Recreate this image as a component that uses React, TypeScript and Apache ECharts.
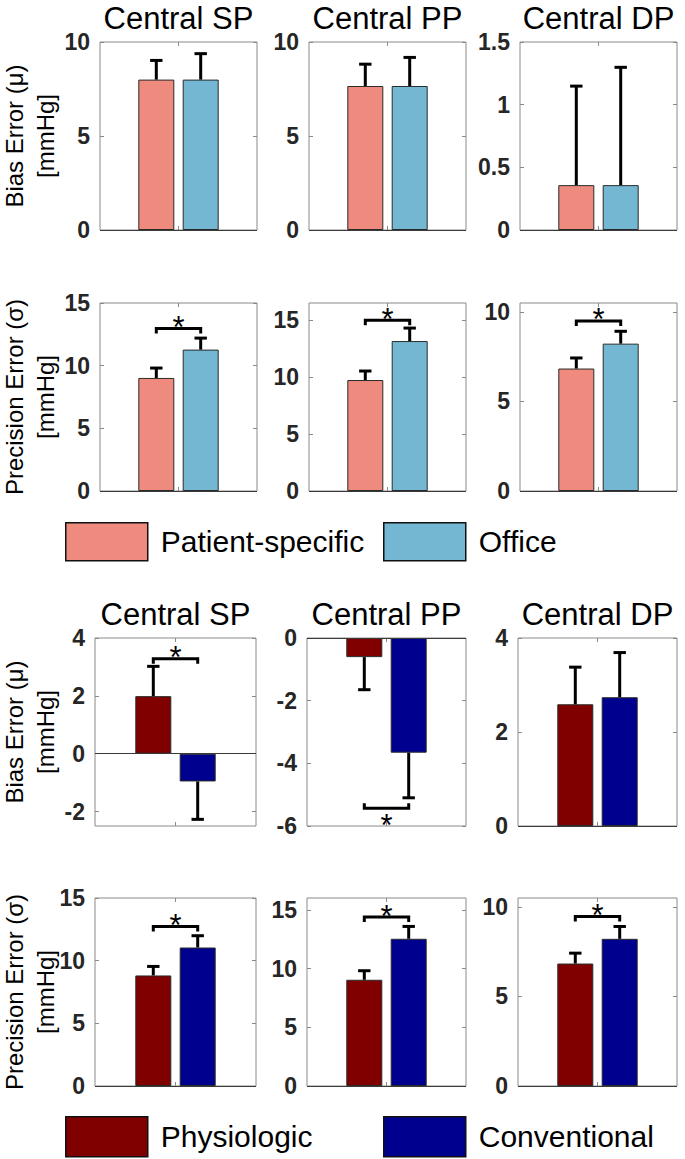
import React, { useEffect, useRef } from "react";
import * as echarts from "echarts";

// ---------- data ----------
const TITLES = ["Central SP", "Central PP", "Central DP"];

// Top study: Patient-specific vs Office
const psBiasMean = [8.0, 7.66, 0.358];
const psBiasSD = [1.02, 1.16, 0.79];
const officeBiasMean = [8.0, 7.66, 0.358];
const officeBiasSD = [1.38, 1.52, 0.94];
const topBiasSig: (number | null)[] = [null, null, null];

const psPrecMean = [9.02, 9.74, 6.84];
const psPrecSD = [0.79, 0.79, 0.59];
const officePrecMean = [11.28, 13.16, 8.23];
const officePrecSD = [0.92, 1.14, 0.69];
const topPrecSig: (number | null)[] = [12.96, 14.98, 9.5];

// Bottom study: Physiologic vs Conventional
const physBiasMean = [1.99, -0.61, 2.59];
const physBiasSD = [1.03, 1.04, 0.79];
const convBiasMean = [-0.96, -3.66, 2.74];
const convBiasSD = [1.31, 1.44, 0.95];
const bottomBiasSig: (number | null)[] = [3.28, -5.43, null];

const physPrecMean = [8.82, 9.04, 6.84];
const physPrecSD = [0.72, 0.77, 0.58];
const convPrecMean = [11.05, 12.53, 8.22];
const convPrecSD = [0.94, 1.05, 0.69];
const bottomPrecSig: (number | null)[] = [12.73, 14.38, 9.47];

// axis ranges and tick labels
const topBiasMin = [0, 0, 0];
const topBiasMax = [10, 10, 1.5];
const topBiasTicks = [[0, 5, 10], [0, 5, 10], [0, 0.5, 1, 1.5]];
const topPrecMin = [0, 0, 0];
const topPrecMax = [15, 16.5, 10.5];
const topPrecTicks = [[0, 5, 10, 15], [0, 5, 10, 15], [0, 5, 10]];
const bottomBiasMin = [-2.5, -6, 0];
const bottomBiasMax = [4, 0, 4];
const bottomBiasTicks = [[-2, 0, 2, 4], [-6, -4, -2, 0], [0, 2, 4]];
const bottomPrecMin = [0, 0, 0];
const bottomPrecMax = [15, 16, 10.5];
const bottomPrecTicks = [[0, 5, 10, 15], [0, 5, 10, 15], [0, 5, 10]];

const NAMES_TOP = ["Patient-specific", "Office"];
const NAMES_BOTTOM = ["Physiologic", "Conventional"];

// ---------- style / layout ----------
const COLORS_TOP = ["#EE8B7E", "#73B7D3"];
const COLORS_BOTTOM = ["#800000", "#00008F"];
const FONT = "'Liberation Sans', Arial, Helvetica, sans-serif";
const BAR_W = 36;
const BAR_GAP = 8.4;
const OFF = (BAR_W + BAR_GAP) / 2;
const CAP = 6.2;
const ROW_TOPS = [42, 303, 638, 898];
const ROW_H = 188;
const COLS_TOP = [[100, 257], [309, 466], [520, 677]];
const COLS_BOTTOM = [[95, 256], [307, 466], [518, 677]];

type Panel = {
  row: number;
  col: number;
  names: string[];
  colors: string[];
  m1: number; s1: number; m2: number; s2: number;
  sig: number | null;
  min: number; max: number; ticks: number[];
};

function buildPanels(): Panel[] {
  const out: Panel[] = [];
  const rows = [
    { names: NAMES_TOP, colors: COLORS_TOP, a: psBiasMean, as: psBiasSD, b: officeBiasMean, bs: officeBiasSD, sig: topBiasSig, min: topBiasMin, max: topBiasMax, ticks: topBiasTicks },
    { names: NAMES_TOP, colors: COLORS_TOP, a: psPrecMean, as: psPrecSD, b: officePrecMean, bs: officePrecSD, sig: topPrecSig, min: topPrecMin, max: topPrecMax, ticks: topPrecTicks },
    { names: NAMES_BOTTOM, colors: COLORS_BOTTOM, a: physBiasMean, as: physBiasSD, b: convBiasMean, bs: convBiasSD, sig: bottomBiasSig, min: bottomBiasMin, max: bottomBiasMax, ticks: bottomBiasTicks },
    { names: NAMES_BOTTOM, colors: COLORS_BOTTOM, a: physPrecMean, as: physPrecSD, b: convPrecMean, bs: convPrecSD, sig: bottomPrecSig, min: bottomPrecMin, max: bottomPrecMax, ticks: bottomPrecTicks },
  ];
  rows.forEach((r, ri) => {
    for (let c = 0; c < 3; c++) {
      out.push({
        row: ri, col: c, names: r.names, colors: r.colors,
        m1: r.a[c], s1: r.as[c], m2: r.b[c], s2: r.bs[c], sig: r.sig[c],
        min: r.min[c], max: r.max[c], ticks: r.ticks[c],
      });
    }
  });
  return out;
}

function buildOption() {
  const panels = buildPanels();
  const grid: any[] = [];
  const xAxis: any[] = [];
  const yAxis: any[] = [];
  const series: any[] = [];
  const graphic: any[] = [];

  panels.forEach((p, i) => {
    const cols = p.row < 2 ? COLS_TOP : COLS_BOTTOM;
    const [l, r] = cols[p.col];
    grid.push({
      left: l, top: ROW_TOPS[p.row], width: r - l, height: ROW_H,
      show: true, borderColor: "#8a8a8a", borderWidth: 1, backgroundColor: "#fff",
    });
    const cat = ["g"];
    xAxis.push({
      type: "category", gridIndex: i, data: cat, position: "bottom",
      axisLine: { show: false, onZero: false },
      axisTick: { show: true, inside: true, alignWithLabel: true, length: 4, lineStyle: { color: "#8a8a8a" } },
      axisLabel: { show: false }, splitLine: { show: false },
    });
    xAxis.push({
      type: "category", gridIndex: i, data: cat, position: "top",
      axisLine: { show: false, onZero: false },
      axisTick: { show: true, inside: true, alignWithLabel: true, length: 4, lineStyle: { color: "#8a8a8a" } },
      axisLabel: { show: false }, splitLine: { show: false },
    });
    yAxis.push({
      type: "value", gridIndex: i, min: p.min, max: p.max, position: "left",
      axisLine: { show: false, onZero: false },
      axisTick: { show: true, inside: true, length: 4, customValues: p.ticks, lineStyle: { color: "#8a8a8a" } },
      axisLabel: {
        show: true, customValues: p.ticks, margin: 10, color: "#262626",
        fontSize: 23, fontWeight: "bold", fontFamily: FONT,
        formatter: (v: number) => String(v),
      },
      splitLine: { show: false },
    });
    yAxis.push({
      type: "value", gridIndex: i, min: p.min, max: p.max, position: "right",
      axisLine: { show: false, onZero: false },
      axisTick: { show: true, inside: true, length: 4, customValues: p.ticks, lineStyle: { color: "#8a8a8a" } },
      axisLabel: { show: false }, splitLine: { show: false },
    });
    const xi = i * 2;
    const yi = i * 2;
    series.push({
      type: "bar", name: p.names[0], xAxisIndex: xi, yAxisIndex: yi,
      data: [p.m1], barWidth: BAR_W, barGap: (BAR_GAP / BAR_W * 100).toFixed(1) + "%",
      itemStyle: { color: p.colors[0], borderColor: "#2a2a2a", borderWidth: 1 },
      markLine: {
        silent: true, symbol: "none", label: { show: false },
        lineStyle: { color: "#3a3a3a", type: "solid", width: 1 },
        data: [{ yAxis: 0 }],
      },
      z: 2,
    });
    series.push({
      type: "bar", name: p.names[1], xAxisIndex: xi, yAxisIndex: yi,
      data: [p.m2], barWidth: BAR_W,
      itemStyle: { color: p.colors[1], borderColor: "#2a2a2a", borderWidth: 1 },
      z: 2,
    });
    series.push({
      type: "custom", xAxisIndex: xi, yAxisIndex: yi, z: 5, clip: false,
      data: [[0, p.m1, p.s1, p.m2, p.s2, p.sig == null ? NaN : p.sig]],
      renderItem: (params: any, api: any) => {
        const m1 = api.value(1), s1 = api.value(2), m2 = api.value(3), s2 = api.value(4), sg = api.value(5);
        const cx = api.coord([0, 0])[0];
        const children: any[] = [];
        const errBar = (x: number, m: number, s: number) => {
          const end = m >= 0 ? m + s : m - s;
          const y0 = api.coord([0, m])[1];
          const y1 = api.coord([0, end])[1];
          children.push({ type: "line", shape: { x1: x, y1: y0, x2: x, y2: y1 }, style: { stroke: "#000", lineWidth: 3 } });
          children.push({ type: "line", shape: { x1: x - CAP, y1: y1, x2: x + CAP, y2: y1 }, style: { stroke: "#000", lineWidth: 3 } });
        };
        errBar(cx - OFF, m1, s1);
        errBar(cx + OFF, m2, s2);
        if (isFinite(sg)) {
          const ys = api.coord([0, sg])[1];
          const down = sg < 0;
          const leg = down ? -5 : 5;
          const xa = cx - OFF, xb = cx + OFF;
          children.push({
            type: "polyline",
            shape: { points: [[xa, ys + leg], [xa, ys], [xb, ys], [xb, ys + leg]] },
            style: { stroke: "#000", lineWidth: 3, fill: null, lineJoin: "miter" },
          });
          children.push({
            type: "text",
            style: {
              text: "*", x: cx, y: down ? ys + 17 : ys - 1,
              align: "center", verticalAlign: "middle",
              textAlign: "center", textVerticalAlign: "middle",
              fontSize: 31, fontFamily: FONT, fill: "#000",
            },
          });
        }
        return { type: "group", children };
      },
    });

    if (p.row === 0 || p.row === 2) {
      graphic.push({
        type: "text", x: (l + r) / 2, y: p.row === 0 ? 18 : 614,
        style: {
          text: TITLES[p.col], fontSize: 31, fontFamily: FONT, fill: "#000",
          align: "center", verticalAlign: "middle", textAlign: "center", textVerticalAlign: "middle",
        },
      });
    }
    if (p.col === 0) {
      const isBias = p.row === 0 || p.row === 2;
      graphic.push({
        type: "text", x: 30, y: ROW_TOPS[p.row] + ROW_H / 2, rotation: Math.PI / 2,
        style: {
          text: (isBias ? "Bias Error (μ)" : "Precision Error (σ)") + "\n[mmHg]",
          fontSize: 24, lineHeight: 31, fontFamily: FONT, fill: "#000",
          align: "center", verticalAlign: "middle", textAlign: "center", textVerticalAlign: "middle",
        },
      });
    }
  });

  const legendBase = (name: string, left: number, top: number, h: number) => ({
    data: [name], left, top, orient: "horizontal", padding: 0,
    itemWidth: 82, itemHeight: h, icon: "rect", selectedMode: false,
    itemStyle: { borderColor: "#111", borderWidth: 1.5 },
    textStyle: { fontSize: 30, fontFamily: FONT, color: "#000", padding: [0, 0, 0, 8] },
  });
  const legend = [
    legendBase(NAMES_TOP[0], 65, 522, 38),
    legendBase(NAMES_TOP[1], 383, 522, 38),
    legendBase(NAMES_BOTTOM[0], 65, 1116, 40),
    legendBase(NAMES_BOTTOM[1], 383, 1116, 40),
  ];

  return {
    animation: false,
    backgroundColor: "#fff",
    grid, xAxis, yAxis, series, legend, graphic,
  };
}

export default function App() {
  const ref = useRef<HTMLDivElement>(null);
  useEffect(() => {
    if (!ref.current) return;
    const chart = echarts.init(ref.current, null, { renderer: "svg" });
    chart.setOption(buildOption() as any);
    return () => chart.dispose();
  }, []);
  return (
    <div
      ref={ref}
      style={{ position: "absolute", left: 0, top: 0, width: 685, height: 1159, background: "#fff" }}
    />
  );
}
